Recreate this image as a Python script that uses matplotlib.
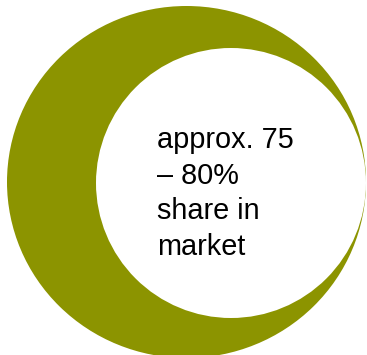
import matplotlib

matplotlib.use("Agg")
import matplotlib.pyplot as plt
from matplotlib.patches import Ellipse, Circle

# label shown inside the white disc
LABEL_LINES = ["approx. 75", "\u2013 80%", "share in", "market"]

OLIVE = "#8c9400"

fig = plt.figure(figsize=(3.67, 3.55), dpi=100)
ax = fig.add_axes([0, 0, 1, 1])
ax.set_xlim(0, 367)
ax.set_ylim(355, 0)
ax.axis("off")

ax.add_patch(Ellipse((186.5, 182), 359, 352, color=OLIVE, lw=0))
ax.add_patch(Circle((231, 183), 135, color="white", lw=0))

for i, line in enumerate(LABEL_LINES):
    ax.text(157, 148 + i * 35.7, line, fontsize=20.8, family="Liberation Sans",
            color="black", ha="left", va="baseline")

fig.savefig("out.png", dpi=100)
